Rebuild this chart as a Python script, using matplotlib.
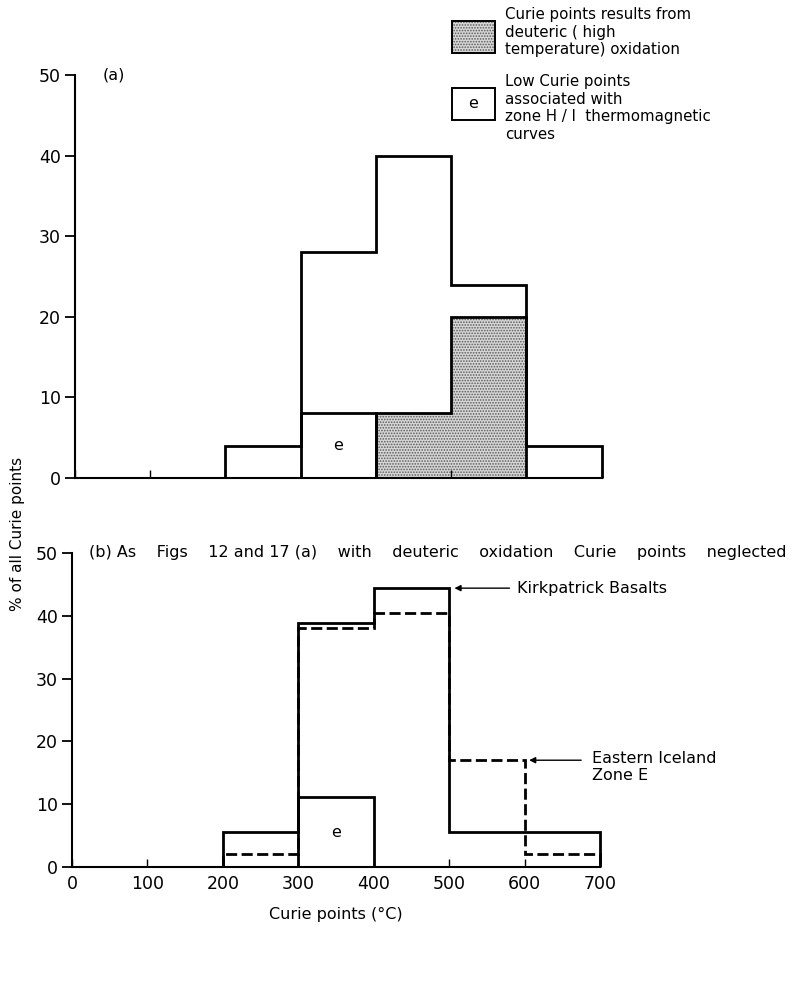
import numpy as np
import matplotlib.pyplot as plt

plt.rcParams['font.family'] = ['DejaVu Sans']
plt.rcParams['hatch.linewidth'] = 0.8

# bin edges, degrees C
edges = [200, 300, 400, 500, 600, 700]

# (a) all Curie points, percent per 100 C bin
all_pts = [4, 28, 40, 24, 4]
low_e_a = [8]                 # 300-400 bin, zone H/I curves
deut_edges = [400, 500, 600]
deut_pts = [8, 20]            # deuteric (high temperature) oxidation

# (b) deuteric oxidation points neglected
kirk = [5.6, 38.9, 44.4, 5.6, 5.6]
low_e_b = [11.1]
iceland = [2, 38, 40.5, 17, 2]

xticks = [0, 100, 200, 300, 400, 500, 600, 700]
yticks = [0, 10, 20, 30, 40, 50]

LW = 2.0
FS = 11.5
STIPPLE = dict(facecolor='#d6d6d6', edgecolor='#5a5a5a', hatch='......', lw=0)

fig = plt.figure(figsize=(7.92, 9.88), dpi=100)
ax1 = fig.add_axes([0.0947, 0.5162, 0.665, 0.408])
ax2 = fig.add_axes([0.0909, 0.1225, 0.6667, 0.3178])

for ax in (ax1, ax2):
    ax.set_xlim(0, 700)
    ax.set_ylim(0, 50)
    for s in ('top', 'right'):
        ax.spines[s].set_visible(False)
    for s in ('left', 'bottom'):
        ax.spines[s].set_linewidth(1.5)
    ax.set_xticks(xticks)
    ax.set_yticks(yticks)
    ax.tick_params(axis='y', direction='out', length=7, width=1.3, labelsize=12.5, pad=3)
    ax.tick_params(axis='x', direction='in', length=6, width=1.0, labelsize=12.5, pad=6)

ax1.tick_params(axis='x', labelbottom=False)

# --- (a) ---
ax1.stairs(deut_pts, deut_edges, baseline=0, fill=True, **STIPPLE)
ax1.stairs(deut_pts, deut_edges, baseline=0, color='k', lw=LW, clip_on=False)
ax1.stairs(low_e_a, edges[1:3], baseline=0, color='k', lw=LW, clip_on=False)
ax1.stairs(all_pts, edges, baseline=0, color='k', lw=LW, clip_on=False)
ax1.text(350, low_e_a[0] / 2, 'e', ha='center', va='center', fontsize=FS)
ax1.text(37, 50, '(a)', ha='left', va='center', fontsize=FS)

# legend drawn by hand in figure pixels
def fig_box(x0, y0, w, h, **kw):
    r = plt.Rectangle((x0 / 792, 1 - (y0 + h) / 988), w / 792, h / 988,
                      transform=fig.transFigure, **kw)
    fig.add_artist(r)

fig_box(452, 21, 43, 32, **STIPPLE)
fig_box(452, 21, 43, 32, fill=False, edgecolor='k', lw=1.4)
fig.text(505 / 792, 1 - 32 / 988,
         'Curie points results from\ndeuteric ( high\ntemperature) oxidation',
         ha='left', va='center', fontsize=10.8, linespacing=1.2)
fig_box(452, 88, 43, 32, fill=False, edgecolor='k', lw=1.4)
fig.text(473.5 / 792, 1 - 104 / 988, 'e', ha='center', va='center', fontsize=FS)
fig.text(505 / 792, 1 - 108 / 988,
         'Low Curie points\nassociated with\nzone H / I  thermomagnetic\ncurves',
         ha='left', va='center', fontsize=10.8, linespacing=1.2)

# --- (b) ---
ax2.stairs(low_e_b, edges[1:3], baseline=0, color='k', lw=LW, clip_on=False)
ax2.stairs(kirk, edges, baseline=0, color='k', lw=LW, clip_on=False)
ax2.stairs(iceland, edges, baseline=0, color='k', lw=LW, linestyle=(0, (4, 1.6)),
           clip_on=False)
ax2.text(350, low_e_b[0] / 2, 'e', ha='center', va='center', fontsize=FS)
ax2.text(22, 50, '(b) As    Figs    12 and 17 (a)    with    deuteric    oxidation    Curie    points    neglected',
         ha='left', va='center', fontsize=FS, clip_on=False)

arrow = dict(arrowstyle='-|>', color='k', lw=1.0, mutation_scale=9, shrinkA=0, shrinkB=0)
ax2.annotate('', xy=(507, kirk[2]), xytext=(580, kirk[2]), arrowprops=arrow,
             annotation_clip=False)
ax2.text(590, kirk[2], 'Kirkpatrick Basalts', ha='left', va='center', fontsize=FS)
ax2.annotate('', xy=(606, iceland[3]), xytext=(675, iceland[3]), arrowprops=arrow,
             annotation_clip=False)
ax2.text(690, iceland[3] + 1.4, 'Eastern Iceland\nZone E', ha='left', va='top',
         fontsize=FS, linespacing=1.15)

ax2.set_xlabel('Curie points (°C)', fontsize=FS, labelpad=10)
fig.text(0.022, 0.46, '% of all Curie points', rotation=90, ha='center', va='center',
         fontsize=11)

fig.savefig('out.png', dpi=100)
